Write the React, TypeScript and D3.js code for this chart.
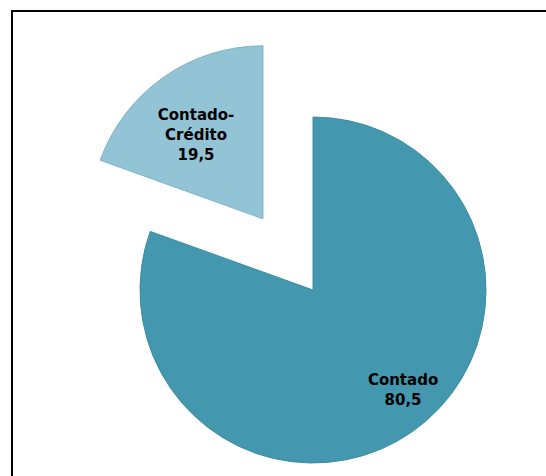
import React from "react";
import * as d3 from "d3";

const categories = ["Contado", "Contado-Crédito"];
const values = [80.5, 19.5];
const labelLines = [["Contado", "80,5"], ["Contado-", "Crédito", "19,5"]];
const fills = ["#4398af", "#93c4d6"];
const strokes = ["#3c8ca2", "#7fb3c7"];
const explode = [0, 87];

export default function App() {
  const W = 546, H = 476;
  const cx = 313, cy = 290, r = 173;
  const pie = d3.pie<number>().sort(null).value((d) => d)(values);
  const arc = d3.arc<d3.PieArcDatum<number>>().innerRadius(0).outerRadius(r);
  const labelR = [134, 106];
  const nudge = [[13, -10], [-6, 3]];
  return (
    <svg width={W} height={H} style={{ position: "absolute", left: 0, top: 0, background: "#fff" }}>
      <rect x={12} y={11} width={600} height={600} fill="#fff" stroke="#000" strokeWidth={2} />
      {pie.map((p, i) => {
        const mid = (p.startAngle + p.endAngle) / 2;
        const ox = explode[i] * Math.sin(mid);
        const oy = -explode[i] * Math.cos(mid);
        const lx = ox + labelR[i] * Math.sin(mid) + nudge[i][0];
        const ly = oy - labelR[i] * Math.cos(mid) + nudge[i][1];
        const lines = labelLines[i];
        const lh = 20;
        const y0 = ly - ((lines.length - 1) * lh) / 2 + 5;
        return (
          <g key={categories[i]} transform={`translate(${cx},${cy})`}>
            <path
              d={arc(p) || ""}
              transform={`translate(${ox},${oy})`}
              fill={fills[i]}
              stroke={strokes[i]}
              strokeWidth={1}
            />
            <text
              textAnchor="middle"
              fontFamily="DejaVu Sans, Verdana, sans-serif"
              fontWeight="bold"
              fontSize={15}
              fill="#000"
            >
              {lines.map((t, j) => (
                <tspan key={j} x={lx} y={y0 + j * lh}>
                  {t}
                </tspan>
              ))}
            </text>
          </g>
        );
      })}
    </svg>
  );
}
